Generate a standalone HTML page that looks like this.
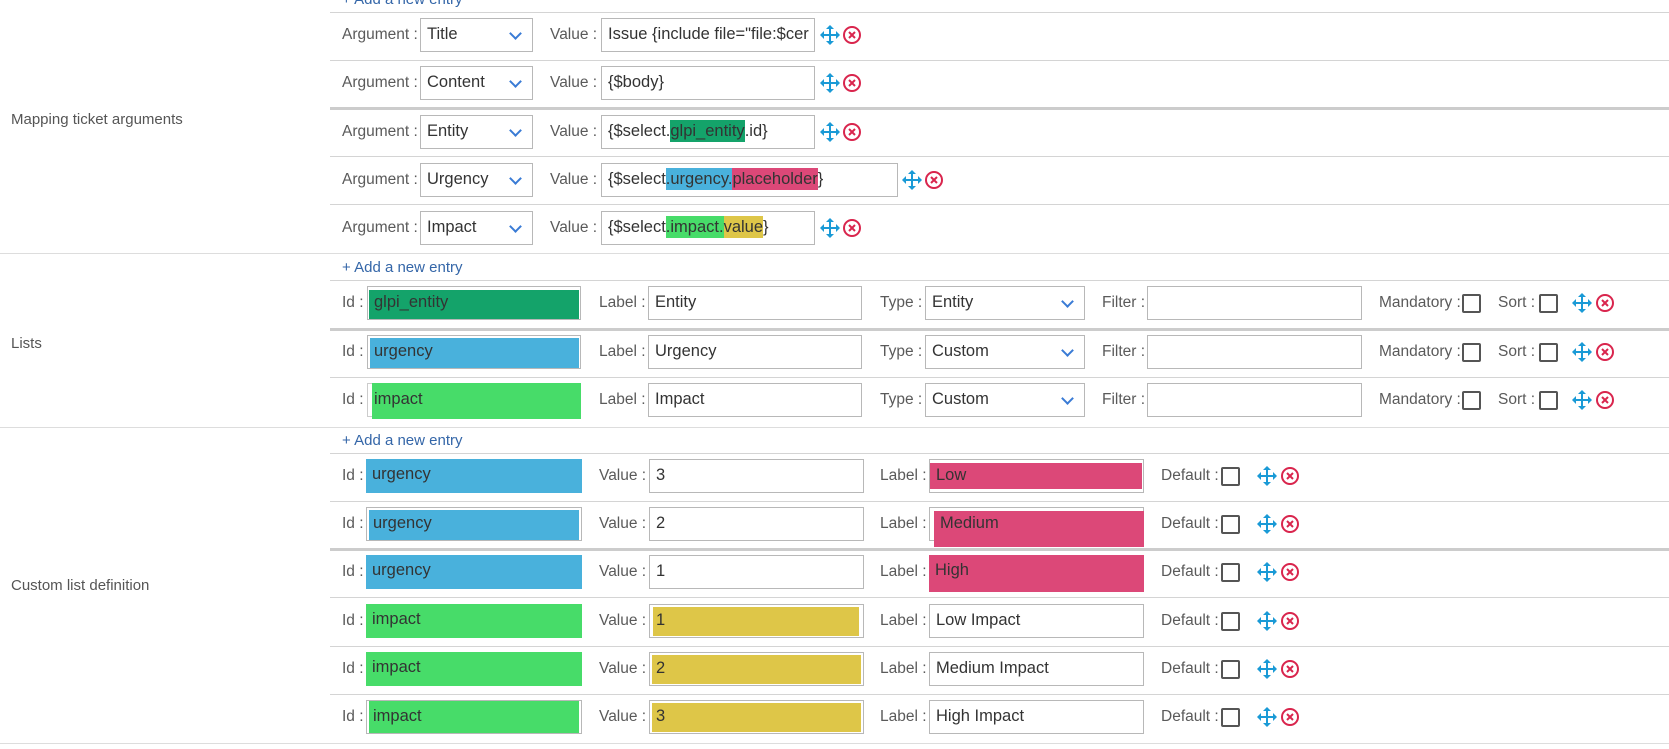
<!DOCTYPE html>
<html><head><meta charset="utf-8"><style>
body{margin:0;width:1669px;height:749px;background:#fff;position:relative;overflow:hidden;font-family:"Liberation Sans",Arial,sans-serif;}
div,span{box-sizing:border-box;}
.hl{position:absolute;left:0;height:2px;background:#ddd;right:0;}
.rl{position:absolute;left:330px;right:0;height:1px;background:#d4d4d4;}
.th{height:3px;background:#ccc;}
.lb{position:absolute;font-size:15.5px;color:#5a5a5a;line-height:34px;height:34px;white-space:nowrap;}
.in{position:absolute;height:34px;border:1px solid #b8b8b8;background:#fff;font-size:16.5px;color:#333;line-height:30px;padding-left:6px;white-space:nowrap;overflow:hidden;}
.in>span.t{position:relative;z-index:1;}
.sel:after{content:"";position:absolute;right:12px;top:10px;width:7px;height:7px;border-right:2px solid #3a7bd5;border-bottom:2px solid #3a7bd5;transform:rotate(45deg);}
.cb{position:absolute;width:19px;height:19px;border:2px solid #555;border-radius:2px;background:#fff;}
.fill{position:absolute;top:0;bottom:0;left:0;right:0;z-index:0;}
.mv,.xx{position:absolute;width:20px;height:20px;}
.sec{position:absolute;left:11px;font-size:15px;color:#555;}
.add{position:absolute;left:342px;font-size:15px;color:#3466a8;}
.h{display:inline-block;line-height:22px;}
</style></head><body>
<svg width="0" height="0" style="position:absolute"><defs>
<symbol id="mv" viewBox="0 0 20 20"><g fill="none" stroke="#1a9ad6" stroke-width="2"><path d="M10 2v16M2 10h16"/></g><g fill="#1a9ad6"><path d="M10 0l4 4H6z"/><path d="M10 20l4-4H6z"/><path d="M0 10l4-4v8z"/><path d="M20 10l-4-4v8z"/></g></symbol>
<symbol id="xx" viewBox="0 0 20 20"><circle cx="10" cy="10" r="8" fill="none" stroke="#d9254d" stroke-width="2"/><path d="M7 7l6 6M13 7l-6 6" stroke="#d9254d" stroke-width="2"/></symbol>
</defs></svg>

<div class="add" style="top:-9px">+ Add a new entry</div>
<div class="rl" style="top:12px"></div>
<div class="rl" style="top:60px"></div>
<div class="rl th" style="top:107px"></div>
<div class="rl" style="top:156px"></div>
<div class="rl" style="top:204px"></div>
<div class="hl" style="top:253px;height:1px;"></div>
<div class="sec" style="top:111px">Mapping ticket arguments</div>

<div class="lb" style="left:342px;top:18px">Argument :</div><div class="in sel" style="left:420px;top:18px;width:113px">Title</div>
<div class="lb" style="left:550px;top:18px">Value :</div><div class="in" style="left:601px;top:18px;width:214px">Issue {include file="file:$cer</div>
<svg class="mv" style="left:820px;top:25px"><use href="#mv"/></svg><svg class="xx" style="left:842px;top:25px"><use href="#xx"/></svg>

<div class="lb" style="left:342px;top:66px">Argument :</div><div class="in sel" style="left:420px;top:66px;width:113px">Content</div>
<div class="lb" style="left:550px;top:66px">Value :</div><div class="in" style="left:601px;top:66px;width:214px">{$body}</div>
<svg class="mv" style="left:820px;top:73px"><use href="#mv"/></svg><svg class="xx" style="left:842px;top:73px"><use href="#xx"/></svg>

<div class="lb" style="left:342px;top:115px">Argument :</div><div class="in sel" style="left:420px;top:115px;width:113px">Entity</div>
<div class="lb" style="left:550px;top:115px">Value :</div><div class="in" style="left:601px;top:115px;width:214px">{$select.<span class="h" style="background:#14a36a">glpi_entity</span>.id}</div>
<svg class="mv" style="left:820px;top:122px"><use href="#mv"/></svg><svg class="xx" style="left:842px;top:122px"><use href="#xx"/></svg>

<div class="lb" style="left:342px;top:163px">Argument :</div><div class="in sel" style="left:420px;top:163px;width:113px">Urgency</div>
<div class="lb" style="left:550px;top:163px">Value :</div><div class="in" style="left:601px;top:163px;width:297px">{$select<span class="h" style="background:#49b1dc">.urgency.</span><span class="h" style="background:#dc4878">placeholder</span>}</div>
<svg class="mv" style="left:902px;top:170px"><use href="#mv"/></svg><svg class="xx" style="left:924px;top:170px"><use href="#xx"/></svg>

<div class="lb" style="left:342px;top:211px">Argument :</div><div class="in sel" style="left:420px;top:211px;width:113px">Impact</div>
<div class="lb" style="left:550px;top:211px">Value :</div><div class="in" style="left:601px;top:211px;width:214px">{$select<span class="h" style="background:#47dc69">.impact.</span><span class="h" style="background:#dec648">value</span>}</div>
<svg class="mv" style="left:820px;top:218px"><use href="#mv"/></svg><svg class="xx" style="left:842px;top:218px"><use href="#xx"/></svg>

<div class="add" style="top:259px">+ Add a new entry</div>
<div class="rl" style="top:280px"></div>
<div class="rl th" style="top:328px"></div>
<div class="rl" style="top:377px"></div>
<div class="hl" style="top:427px;height:1px;"></div>
<div class="sec" style="top:335px">Lists</div>

<div class="lb" style="left:342px;top:286px">Id :</div><div class="in" style="left:367px;top:286px;width:214px"><div class="fill" style="background:#14a36a;top:3px;left:1px;right:1px"></div><span class="t">glpi_entity</span></div>
<div class="lb" style="left:599px;top:286px">Label :</div><div class="in" style="left:648px;top:286px;width:214px">Entity</div>
<div class="lb" style="left:880px;top:286px">Type :</div><div class="in sel" style="left:925px;top:286px;width:160px">Entity</div>
<div class="lb" style="left:1102px;top:286px">Filter :</div><div class="in" style="left:1147px;top:286px;width:215px"></div>
<div class="lb" style="left:1379px;top:286px">Mandatory :</div><div class="cb" style="left:1462px;top:294px"></div>
<div class="lb" style="left:1498px;top:286px">Sort :</div><div class="cb" style="left:1539px;top:294px"></div>
<svg class="mv" style="left:1572px;top:293px"><use href="#mv"/></svg><svg class="xx" style="left:1595px;top:293px"><use href="#xx"/></svg>

<div class="lb" style="left:342px;top:335px">Id :</div><div class="in" style="left:367px;top:335px;width:214px"><div class="fill" style="background:#49b1dc;top:2px;left:2px;right:1px"></div><span class="t">urgency</span></div>
<div class="lb" style="left:599px;top:335px">Label :</div><div class="in" style="left:648px;top:335px;width:214px">Urgency</div>
<div class="lb" style="left:880px;top:335px">Type :</div><div class="in sel" style="left:925px;top:335px;width:160px">Custom</div>
<div class="lb" style="left:1102px;top:335px">Filter :</div><div class="in" style="left:1147px;top:335px;width:215px"></div>
<div class="lb" style="left:1379px;top:335px">Mandatory :</div><div class="cb" style="left:1462px;top:343px"></div>
<div class="lb" style="left:1498px;top:335px">Sort :</div><div class="cb" style="left:1539px;top:343px"></div>
<svg class="mv" style="left:1572px;top:342px"><use href="#mv"/></svg><svg class="xx" style="left:1595px;top:342px"><use href="#xx"/></svg>

<div class="lb" style="left:342px;top:383px">Id :</div><div class="in" style="left:367px;top:383px;width:214px;overflow:visible;border-color:#ccc"><div class="fill" style="background:#47dc69;top:-1px;bottom:-3px;left:4px;right:-1px"></div><span class="t">impact</span></div>
<div class="lb" style="left:599px;top:383px">Label :</div><div class="in" style="left:648px;top:383px;width:214px">Impact</div>
<div class="lb" style="left:880px;top:383px">Type :</div><div class="in sel" style="left:925px;top:383px;width:160px">Custom</div>
<div class="lb" style="left:1102px;top:383px">Filter :</div><div class="in" style="left:1147px;top:383px;width:215px"></div>
<div class="lb" style="left:1379px;top:383px">Mandatory :</div><div class="cb" style="left:1462px;top:391px"></div>
<div class="lb" style="left:1498px;top:383px">Sort :</div><div class="cb" style="left:1539px;top:391px"></div>
<svg class="mv" style="left:1572px;top:390px"><use href="#mv"/></svg><svg class="xx" style="left:1595px;top:390px"><use href="#xx"/></svg>

<div class="add" style="top:432px">+ Add a new entry</div>
<div class="rl" style="top:453px"></div>
<div class="rl" style="top:501px"></div>
<div class="rl th" style="top:548px"></div>
<div class="rl" style="top:597px"></div>
<div class="rl" style="top:646px"></div>
<div class="rl" style="top:694px"></div>
<div class="hl" style="top:743px;height:1px;"></div>
<div class="sec" style="top:577px">Custom list definition</div>

<div class="lb" style="left:342px;top:459px">Id :</div><div class="in" style="left:366px;top:459px;width:216px;border:none"><div class="fill" style="background:#49b1dc"></div><span class="t">urgency</span></div>
<div class="lb" style="left:599px;top:459px">Value :</div><div class="in" style="left:649px;top:459px;width:215px">3</div>
<div class="lb" style="left:880px;top:459px">Label :</div><div class="in" style="left:929px;top:459px;width:215px"><div class="fill" style="background:#dc4878;top:3px;bottom:3px;right:1px"></div><span class="t">Low</span></div>
<div class="lb" style="left:1161px;top:459px">Default :</div><div class="cb" style="left:1221px;top:467px"></div>
<svg class="mv" style="left:1257px;top:466px"><use href="#mv"/></svg><svg class="xx" style="left:1280px;top:466px"><use href="#xx"/></svg>

<div class="lb" style="left:342px;top:507px">Id :</div><div class="in" style="left:366px;top:507px;width:216px"><div class="fill" style="background:#49b1dc;top:2px;left:2px;right:2px"></div><span class="t">urgency</span></div>
<div class="lb" style="left:599px;top:507px">Value :</div><div class="in" style="left:649px;top:507px;width:215px">2</div>
<div class="lb" style="left:880px;top:507px">Label :</div><div class="in" style="left:929px;top:507px;width:215px;overflow:visible"><div class="fill" style="background:#dc4878;top:3px;bottom:-7px;left:4px;right:-1px"></div><span class="t" style="left:4px">Medium</span></div>
<div class="lb" style="left:1161px;top:507px">Default :</div><div class="cb" style="left:1221px;top:515px"></div>
<svg class="mv" style="left:1257px;top:514px"><use href="#mv"/></svg><svg class="xx" style="left:1280px;top:514px"><use href="#xx"/></svg>

<div class="lb" style="left:342px;top:555px">Id :</div><div class="in" style="left:366px;top:555px;width:216px;border:none"><div class="fill" style="background:#49b1dc;bottom:-2px"></div><span class="t">urgency</span></div>
<div class="lb" style="left:599px;top:555px">Value :</div><div class="in" style="left:649px;top:555px;width:215px">1</div>
<div class="lb" style="left:880px;top:555px">Label :</div><div class="in" style="left:929px;top:555px;width:215px;overflow:visible;border:none"><div class="fill" style="background:#dc4878;top:0;bottom:-3px"></div><span class="t">High</span></div>
<div class="lb" style="left:1161px;top:555px">Default :</div><div class="cb" style="left:1221px;top:563px"></div>
<svg class="mv" style="left:1257px;top:562px"><use href="#mv"/></svg><svg class="xx" style="left:1280px;top:562px"><use href="#xx"/></svg>

<div class="lb" style="left:342px;top:604px">Id :</div><div class="in" style="left:366px;top:604px;width:216px;border:none"><div class="fill" style="background:#47dc69"></div><span class="t">impact</span></div>
<div class="lb" style="left:599px;top:604px">Value :</div><div class="in" style="left:649px;top:604px;width:215px"><div class="fill" style="background:#dec648;top:2px;left:3px;right:4px;bottom:1px"></div><span class="t">1</span></div>
<div class="lb" style="left:880px;top:604px">Label :</div><div class="in" style="left:929px;top:604px;width:215px">Low Impact</div>
<div class="lb" style="left:1161px;top:604px">Default :</div><div class="cb" style="left:1221px;top:612px"></div>
<svg class="mv" style="left:1257px;top:611px"><use href="#mv"/></svg><svg class="xx" style="left:1280px;top:611px"><use href="#xx"/></svg>

<div class="lb" style="left:342px;top:652px">Id :</div><div class="in" style="left:366px;top:652px;width:216px;border:none"><div class="fill" style="background:#47dc69"></div><span class="t">impact</span></div>
<div class="lb" style="left:599px;top:652px">Value :</div><div class="in" style="left:649px;top:652px;width:215px"><div class="fill" style="background:#dec648;top:2px;left:2px;right:2px;bottom:1px"></div><span class="t">2</span></div>
<div class="lb" style="left:880px;top:652px">Label :</div><div class="in" style="left:929px;top:652px;width:215px">Medium Impact</div>
<div class="lb" style="left:1161px;top:652px">Default :</div><div class="cb" style="left:1221px;top:660px"></div>
<svg class="mv" style="left:1257px;top:659px"><use href="#mv"/></svg><svg class="xx" style="left:1280px;top:659px"><use href="#xx"/></svg>

<div class="lb" style="left:342px;top:700px">Id :</div><div class="in" style="left:366px;top:700px;width:216px"><div class="fill" style="background:#47dc69;left:2px;right:2px"></div><span class="t">impact</span></div>
<div class="lb" style="left:599px;top:700px">Value :</div><div class="in" style="left:649px;top:700px;width:215px"><div class="fill" style="background:#dec648;top:2px;left:2px;right:2px;bottom:1px"></div><span class="t">3</span></div>
<div class="lb" style="left:880px;top:700px">Label :</div><div class="in" style="left:929px;top:700px;width:215px">High Impact</div>
<div class="lb" style="left:1161px;top:700px">Default :</div><div class="cb" style="left:1221px;top:708px"></div>
<svg class="mv" style="left:1257px;top:707px"><use href="#mv"/></svg><svg class="xx" style="left:1280px;top:707px"><use href="#xx"/></svg>
</body></html>
